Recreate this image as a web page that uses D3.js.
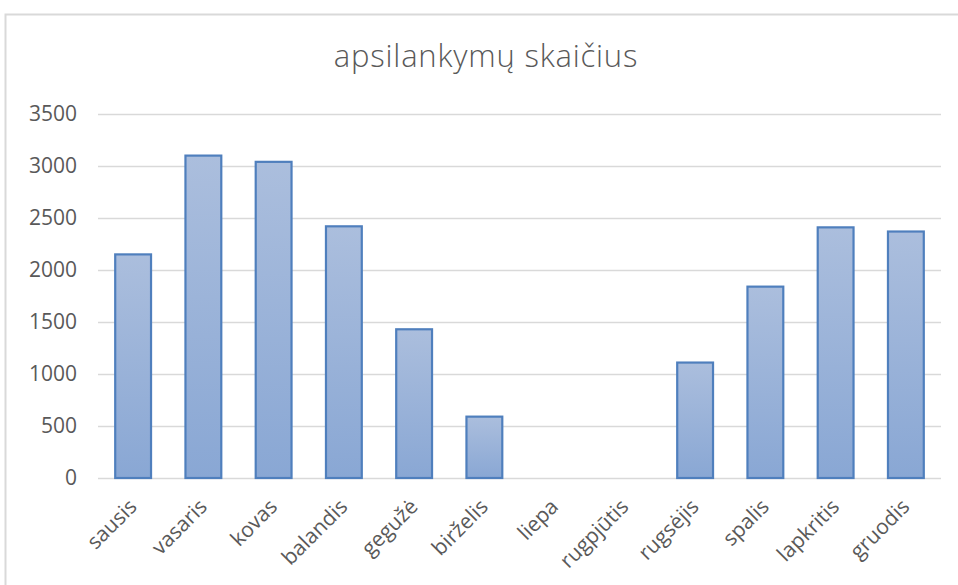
<!DOCTYPE html>
<html>
<head>
<meta charset="utf-8">
<script src="https://cdn.jsdelivr.net/npm/d3@7"></script>
<style>
body { margin: 0; background: #fff; }
svg { display: block; }
</style>
</head>
<body>
<script>
var months = ["sausis", "vasaris", "kovas", "balandis", "gegužė", "birželis",
    "liepa", "rugpjūtis", "rugsėjis", "spalis", "lapkritis", "gruodis"];
var visits = [2150, 3100, 3040, 2420, 1430, 590, 0, 0, 1110, 1840, 2410, 2370];
var yTicks = [0, 500, 1000, 1500, 2000, 2500, 3000, 3500];
var chartTitle = "apsilankymų skaičius";

var width = 958, height = 585;
var margin = {top: 114, right: 17, bottom: 107, left: 98};
var fontFam = "Open Sans, sans-serif";

var svg = d3.select("body").append("svg")
    .attr("width", width)
    .attr("height", height);

// outer chart frame (only top and left visible in the screenshot)
svg.append("rect")
    .attr("x", 5.5).attr("y", 14.5)
    .attr("width", 1000).attr("height", 1000)
    .attr("fill", "#fff")
    .attr("stroke", "#d9d9d9")
    .attr("stroke-width", 2);

var defs = svg.append("defs");
var grad = defs.append("linearGradient")
    .attr("id", "barGrad")
    .attr("x1", 0).attr("y1", 0).attr("x2", 0).attr("y2", 1);
grad.append("stop").attr("offset", "0%").attr("stop-color", "#abbedd");
grad.append("stop").attr("offset", "100%").attr("stop-color", "#89a7d4");

var x = d3.scaleBand()
    .domain(months)
    .range([margin.left, width - margin.right])
    .paddingInner(0.49)
    .paddingOuter(0.245);

var y = d3.scaleLinear()
    .domain([0, 3500])
    .range([height - margin.bottom, margin.top]);

// gridlines
svg.append("g")
    .selectAll("line")
    .data(yTicks)
    .enter()
    .append("line")
    .attr("x1", margin.left)
    .attr("x2", width - margin.right)
    .attr("y1", d => Math.round(y(d)) + 0.5)
    .attr("y2", d => Math.round(y(d)) + 0.5)
    .attr("stroke", "#d9d9d9")
    .attr("stroke-width", 1.5);

// y axis labels
var yAxis = svg.append("g")
    .attr("transform", "translate(" + (margin.left - 21) + ",0)")
    .call(d3.axisLeft(y).tickValues(yTicks).tickFormat(d3.format("d")).tickSize(0).tickPadding(0));
yAxis.select(".domain").remove();
yAxis.selectAll("text")
    .attr("font-family", fontFam)
    .attr("font-size", 21)
    .attr("fill", "#595959");

// bars
svg.append("g")
    .selectAll("rect")
    .data(months.map((m, i) => ({month: m, value: visits[i]})).filter(d => d.value > 0))
    .enter()
    .append("rect")
    .attr("x", d => x(d.month))
    .attr("y", d => y(d.value))
    .attr("width", x.bandwidth())
    .attr("height", d => y(0) - y(d.value))
    .attr("fill", "url(#barGrad)")
    .attr("stroke", "#4f7fbd")
    .attr("stroke-width", 2.2);

// x axis
var xAxis = svg.append("g")
    .attr("transform", "translate(0," + y(0) + ")")
    .call(d3.axisBottom(x).tickSize(0));
xAxis.select(".domain").remove();
xAxis.selectAll("text")
    .attr("font-family", fontFam)
    .attr("font-size", 21)
    .attr("fill", "#595959")
    .attr("text-anchor", "end")
    .attr("x", 0).attr("y", 0).attr("dy", 0)
    .attr("transform", "translate(5,30) rotate(-45)");

svg.append("text")
    .attr("x", 486)
    .attr("y", 67)
    .attr("text-anchor", "middle")
    .attr("font-family", fontFam)
    .attr("font-weight", 300)
    .attr("font-size", 31)
    .attr("letter-spacing", 0.8)
    .attr("fill", "#595959")
    .text(chartTitle);
</script>
</body>
</html>
